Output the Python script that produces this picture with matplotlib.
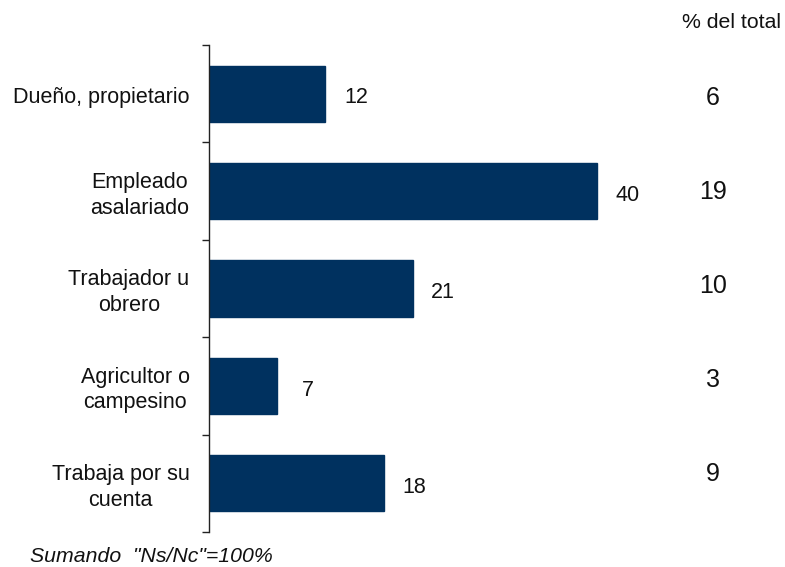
import matplotlib
matplotlib.use("Agg")
import matplotlib.pyplot as plt
import numpy as np

categories = ["Dueño, propietario", "Empleado\nasalariado", "Trabajador u\nobrero",
              "Agricultor o\ncampesino", "Trabaja por su\ncuenta"]
values = [12, 40, 21, 7, 18]
pct_total = [6, 19, 10, 3, 9]

plt.rcParams['font.family'] = ['Liberation Sans', 'DejaVu Sans']

fig = plt.figure(figsize=(7.85, 5.67), dpi=100)
W, H = 785, 567
x0, x1 = 209, 700
ytop, ybot = 45, 532
ax = fig.add_axes([x0 / W, (H - ybot) / H, (x1 - x0) / W, (ybot - ytop) / H])

pos = np.arange(len(categories))
ax.barh(pos, values, height=0.575, color='#00315f', edgecolor='#00315f')
ax.set_ylim(len(categories) - 0.5, -0.5)
ax.set_xlim(0, (x1 - x0) / 9.7)

for s in ['top', 'right', 'bottom']:
    ax.spines[s].set_visible(False)
ax.spines['left'].set_color('#222222')
ax.spines['left'].set_linewidth(1.0)
ax.set_xticks([])
ax.set_yticks(pos)
ax.set_yticklabels([])
ax.tick_params(axis='y', which='major', length=0)
ax.set_yticks(np.arange(-0.5, len(categories)), minor=True)
ax.tick_params(axis='y', which='minor', length=5, direction='out', color='#222222', width=1.0)

for i, (c, v) in enumerate(zip(categories, values)):
    ax.annotate(c, xy=(0, i), xycoords=('axes fraction', 'data'), xytext=(-14, -3),
                textcoords='offset points', ha='right', va='center', multialignment='center',
                fontsize=15.5, color='#111111', linespacing=1.28)
    ax.annotate(str(v), xy=(v, i), xytext=(22, -3), textcoords='offset points',
                ha='center', va='center', fontsize=15.5, color='#111111')

for i, p in enumerate(pct_total):
    fig.text(713 / W, 1 - (98 + 94 * i) / H, str(p), ha='center', va='center',
             fontsize=18, color='#111111')

fig.text(731 / W, 1 - 22 / H, "% del total", ha='center', va='center', fontsize=15.3, color='#111111')
fig.text(30 / W, 1 - 556 / H, 'Sumando  "Ns/Nc"=100%', ha='left', va='center', fontsize=15.3,
         style='italic', color='#111111')

fig.savefig('out.png', dpi=100)
